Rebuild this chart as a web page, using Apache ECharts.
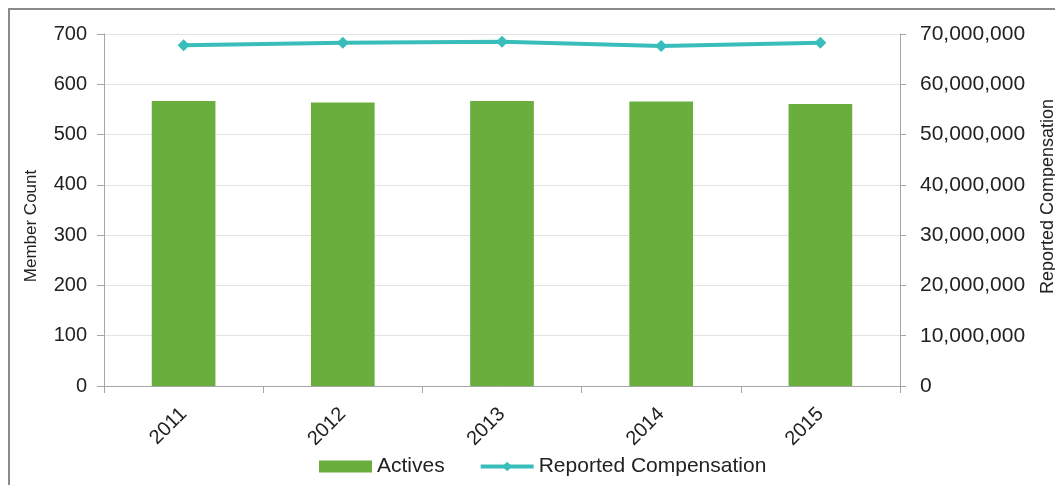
<!DOCTYPE html>
<html>
<head>
<meta charset="utf-8">
<script src="https://cdn.jsdelivr.net/npm/echarts@6/dist/echarts.min.js"></script>
<style>
    html, body { margin: 0; padding: 0; background: #fff; overflow: hidden; }
    #frame {
        position: absolute; left: 8px; top: 8px;
        width: 1200px; height: 600px;
        border-left: 2px solid #8a8a8a; border-top: 2px solid #8a8a8a;
    }
    #chart { position: absolute; left: 0; top: 0; width: 1055px; height: 485px; }
</style>
</head>
<body>
<div id="frame"></div>
<div id="chart"></div>
<script>
// 年份与数据
const years = ['2011', '2012', '2013', '2014', '2015'];
const actives = [567, 564, 567, 566, 561];
const compensation = [67750000, 68250000, 68450000, 67600000, 68250000];

const axisFont = 'Liberation Sans, Arial, sans-serif';
const textColor = '#222';
const axisColor = '#a6a6a6';
const lineColor = '#38bdba';

const chart = echarts.init(document.getElementById('chart'));

chart.setOption({
    animation: false,
    textStyle: { fontFamily: axisFont },
    grid: { left: 104, right: 155, top: 34, bottom: 99, outerBoundsMode: 'none' },
    legend: {
        top: 451,
        left: 314,
        itemGap: 34,
        itemWidth: 53,
        itemHeight: 12,
        textStyle: { fontSize: 21, color: textColor, fontFamily: axisFont },
        data: [
            { name: 'Actives', icon: 'rect' },
            { name: 'Reported Compensation', lineStyle: { width: 4, color: lineColor } }
        ]
    },
    xAxis: {
        type: 'category',
        data: years,
        axisLine: { lineStyle: { color: axisColor } },
        axisTick: { show: true, length: 7, lineStyle: { color: axisColor } },
        axisLabel: { rotate: 45, fontSize: 20, color: textColor, margin: 25 }
    },
    yAxis: [
        {
            type: 'value',
            min: 0, max: 700, interval: 100,
            name: 'Member Count',
            nameLocation: 'middle',
            nameRotate: 90,
            nameGap: 64,
            nameTextStyle: { fontSize: 17, color: textColor, padding: [0, 32, 0, 0] },
            axisLine: { show: true, lineStyle: { color: axisColor } },
            axisTick: { show: true, length: 7, lineStyle: { color: axisColor } },
            axisLabel: { fontSize: 20, color: textColor, margin: 17 },
            splitLine: { lineStyle: { color: '#e3e3e3' } }
        },
        {
            type: 'value',
            min: 0, max: 70000000, interval: 10000000,
            name: 'Reported Compensation',
            nameLocation: 'middle',
            nameRotate: 90,
            nameGap: 139,
            nameTextStyle: { fontSize: 18, color: textColor, padding: [0, 0, 0, 27] },
            axisLine: { show: true, lineStyle: { color: axisColor } },
            axisTick: { show: true, length: 6, lineStyle: { color: axisColor } },
            axisLabel: {
                fontSize: 21, color: textColor, margin: 20,
                formatter: v => v.toLocaleString('en-US')
            },
            splitLine: { show: false }
        }
    ],
    series: [
        {
            name: 'Actives',
            type: 'bar',
            data: actives,
            barWidth: '40%',
            itemStyle: { color: '#6aaf3d' }
        },
        {
            name: 'Reported Compensation',
            type: 'line',
            yAxisIndex: 1,
            data: compensation,
            symbol: 'diamond',
            symbolSize: 12,
            lineStyle: { width: 4, color: lineColor },
            itemStyle: { color: lineColor }
        }
    ]
});
</script>
</body>
</html>
